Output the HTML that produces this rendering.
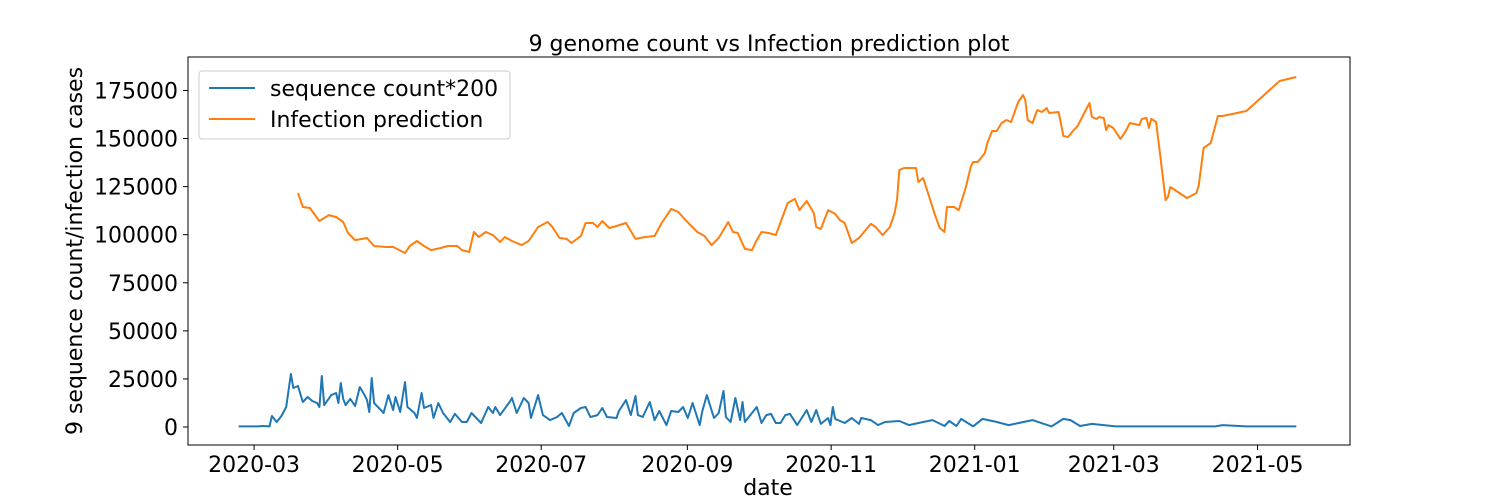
<!DOCTYPE html>
<html><head><meta charset="utf-8"><style>
body{margin:0;background:#fff;}
svg{display:block;font-family:"DejaVu Sans","Liberation Sans",sans-serif;}
</style></head><body>
<svg id="chart" width="1500" height="500" xmlns="http://www.w3.org/2000/svg">
<text x="769" y="51" font-size="22" text-anchor="middle">9 genome count vs Infection prediction plot</text>
<text x="768" y="495" font-size="22" text-anchor="middle">date</text>
<text transform="translate(82,251) rotate(-90)" font-size="22" text-anchor="middle">9 sequence count/infection cases</text>
<g id="ticks"></g>
<g id="series"></g>
<rect x="188" y="57" width="1162" height="388" fill="none" stroke="#000" stroke-width="1"/>
<g>
<rect x="199" y="71" width="311" height="68" rx="3" fill="#fff" fill-opacity="0.8" stroke="#ccc"/>
<line x1="209" y1="88" x2="255" y2="88" stroke="#1f77b4" stroke-width="2"/>
<text x="270" y="96" font-size="22">sequence count*200</text>
<line x1="209" y1="119" x2="255" y2="119" stroke="#ff7f0e" stroke-width="2"/>
<text x="270" y="127" font-size="22">Infection prediction</text>
</g>
</svg>
<script>
const blueDays=[-1,7,9,12,13,15,17,19,21,22,24,26,28,30,32,33,34,35,38,40,41,42,43,44,46,48,50,52,53,54,55,56,60,62,64,65,67,69,70,73,74,76,77,80,81,83,85,88,90,93,95,97,101,104,106,107,109,113,114,116,119,121,122,125,127,130,133,135,138,140,143,145,147,150,152,154,158,159,162,164,166,167,169,172,174,176,179,181,184,186,188,190,193,194,196,199,201,203,204,206,208,210,211,212,214,217,219,221,223,225,227,229,231,234,238,240,242,244,247,248,249,250,254,257,260,261,265,268,271,277,281,287,291,296,298,301,303,308,312,318,323,333,341,346,349,353,358,368,373,386,395,410,413,423,444];
const blueVals=[0.3,0.3,0.5,0.3,5.7,2.6,5.7,10.4,27.6,20.3,21.3,13.0,15.6,13.5,12.5,10.4,26.5,11.4,16.6,17.7,12.5,22.9,14.6,11.4,14.6,10.9,20.8,16.6,14.0,7.8,25.5,12.5,7.3,16.6,8.8,15.6,7.8,23.4,10.4,7.3,4.7,17.7,9.9,11.4,4.7,12.5,7.3,2.6,6.8,2.6,2.6,7.3,2.1,10.4,7.3,10.4,6.2,13.0,15.1,7.3,15.1,12.5,4.7,16.6,6.2,3.6,5.2,7.3,0.5,7.3,9.9,10.4,5.2,6.2,9.9,5.2,4.7,8.3,14.0,6.2,16.1,6.2,5.2,13.0,3.6,8.3,1.0,8.3,7.8,10.4,4.7,12.5,1.0,7.8,16.6,4.7,7.3,18.7,5.2,2.6,15.1,3.6,13.0,2.6,5.7,10.4,2.1,6.2,6.8,2.1,2.1,6.2,6.8,1.0,8.8,2.6,8.8,1.6,4.7,1.0,10.4,4.2,2.1,4.7,1.6,4.7,3.6,1.0,2.6,3.1,1.0,2.6,3.6,0.5,3.1,0.5,4.2,0.3,4.2,2.6,1.0,3.6,0.3,4.2,3.6,0.5,1.6,0.3,0.3,0.3,0.3,0.3,1.0,0.3,0.3];
const orangeDays=[24,26,29,32,33,35,37,40,43,45,48,53,56,61,64,69,71,74,77,80,84,87,91,93,96,98,100,103,106,109,111,114,118,121,125,129,131,134,137,139,143,145,148,150,152,155,158,162,166,170,174,177,181,184,187,192,195,198,201,205,207,209,212,215,217,219,222,225,230,233,235,238,241,242,244,247,250,252,254,257,260,265,267,270,273,275,276,277,279,284,285,287,290,292,294,296,297,300,302,305,307,308,310,313,314,316,318,320,322,324,327,329,330,331,333,335,337,339,340,344,346,348,350,352,355,357,358,360,361,363,364,365,367,370,372,374,378,379,381,382,383,385,387,389,390,391,398,402,403,405,408,411,413,423,437,444];
const orangeVals=[121.7,114.4,113.9,108.7,107.1,108.7,110.2,109.2,106.6,100.9,97.2,98.3,94.1,93.6,93.6,90.5,94.1,96.7,94.1,92.0,93.1,94.1,94.1,92.0,91.0,101.4,98.8,101.4,99.8,96.2,98.8,96.7,94.6,96.7,104.0,106.6,104.0,98.3,97.8,95.7,99.3,106.1,106.1,104.0,107.1,103.5,104.5,106.1,97.8,98.8,99.3,106.1,113.4,111.8,107.6,101.4,99.3,94.6,98.3,106.6,101.4,100.9,92.6,92.0,97.2,101.4,100.9,99.8,116.5,118.6,112.8,117.5,111.3,104.0,103.0,112.8,110.8,107.6,106.1,95.7,98.3,105.6,104.0,99.8,104.0,111.3,118.0,133.6,134.7,134.7,127.4,129.5,118.0,110.2,103.5,101.4,114.4,114.4,112.8,124.8,135.2,137.8,137.8,142.5,147.7,153.9,153.9,158.1,159.6,158.6,169.0,172.6,170.0,159.6,158.1,164.8,163.8,165.9,163.3,163.8,151.3,150.8,153.9,156.5,163.8,168.5,161.2,160.2,161.2,160.7,154.4,157.0,155.5,149.8,153.4,158.1,157.0,160.2,160.7,155.5,160.2,158.6,138.8,118.0,119.6,124.8,119.1,121.7,125.8,145.1,147.7,161.7,161.7,164.3,179.9,182.0];
const yTicks=[0,25,50,75,100,125,150,175];
const yTickLabels=["0","25000","50000","75000","100000","125000","150000","175000"];
const xTickDays=[5.5,65.9,126.3,187.8,248.3,308.7,367.2,427.7];
const xTickLabels=["2020-03","2020-05","2020-07","2020-09","2020-11","2021-01","2021-03","2021-05"];

const X0=188,X1=1350,Y0=445,Y1=57;
const dMin=-22.3,dMax=466.6,vMin=-9.36,vMax=192.4;
function xs(d){return X0+(d-dMin)/(dMax-dMin)*(X1-X0);}
function ys(v){return Y0-(v-vMin)/(vMax-vMin)*(Y0-Y1);}
const NS="http://www.w3.org/2000/svg";
const tg=document.getElementById('ticks');
yTicks.forEach((v,i)=>{
  const y=ys(v);
  const l=document.createElementNS(NS,'line');
  l.setAttribute('x1',X0-5);l.setAttribute('x2',X0);l.setAttribute('y1',y);l.setAttribute('y2',y);l.setAttribute('stroke','#000');
  
  
  tg.appendChild(l);
  const t=document.createElementNS(NS,'text');
  t.setAttribute('x',X0-10);t.setAttribute('y',y+8);t.setAttribute('font-size','22');t.setAttribute('text-anchor','end');
  t.textContent=yTickLabels[i];
  
  
  tg.appendChild(t);
});
xTickDays.forEach((d,i)=>{
  const x=xs(d);
  const l=document.createElementNS(NS,'line');
  l.setAttribute('x1',x);l.setAttribute('x2',x);l.setAttribute('y1',Y0);l.setAttribute('y2',Y0+5);l.setAttribute('stroke','#000');
  
  
  tg.appendChild(l);
  const t=document.createElementNS(NS,'text');
  t.setAttribute('x',x);t.setAttribute('y',Y0+27);t.setAttribute('font-size','22');t.setAttribute('text-anchor','middle');
  t.textContent=xTickLabels[i];
  
  
  tg.appendChild(t);
});
const sg=document.getElementById('series');
function line(days,vals,color,name){
  const p=document.createElementNS(NS,'polyline');
  p.setAttribute('points',days.map((d,i)=>xs(d).toFixed(1)+','+ys(vals[i]).toFixed(1)).join(' '));
  p.setAttribute('fill','none');p.setAttribute('stroke',color);p.setAttribute('stroke-width','2');p.setAttribute('stroke-linejoin','round');
  
  
  sg.appendChild(p);
}
line(blueDays,blueVals,'#1f77b4','sequence-count-line');
line(orangeDays,orangeVals,'#ff7f0e','infection-prediction-line');
</script>
</body></html>
